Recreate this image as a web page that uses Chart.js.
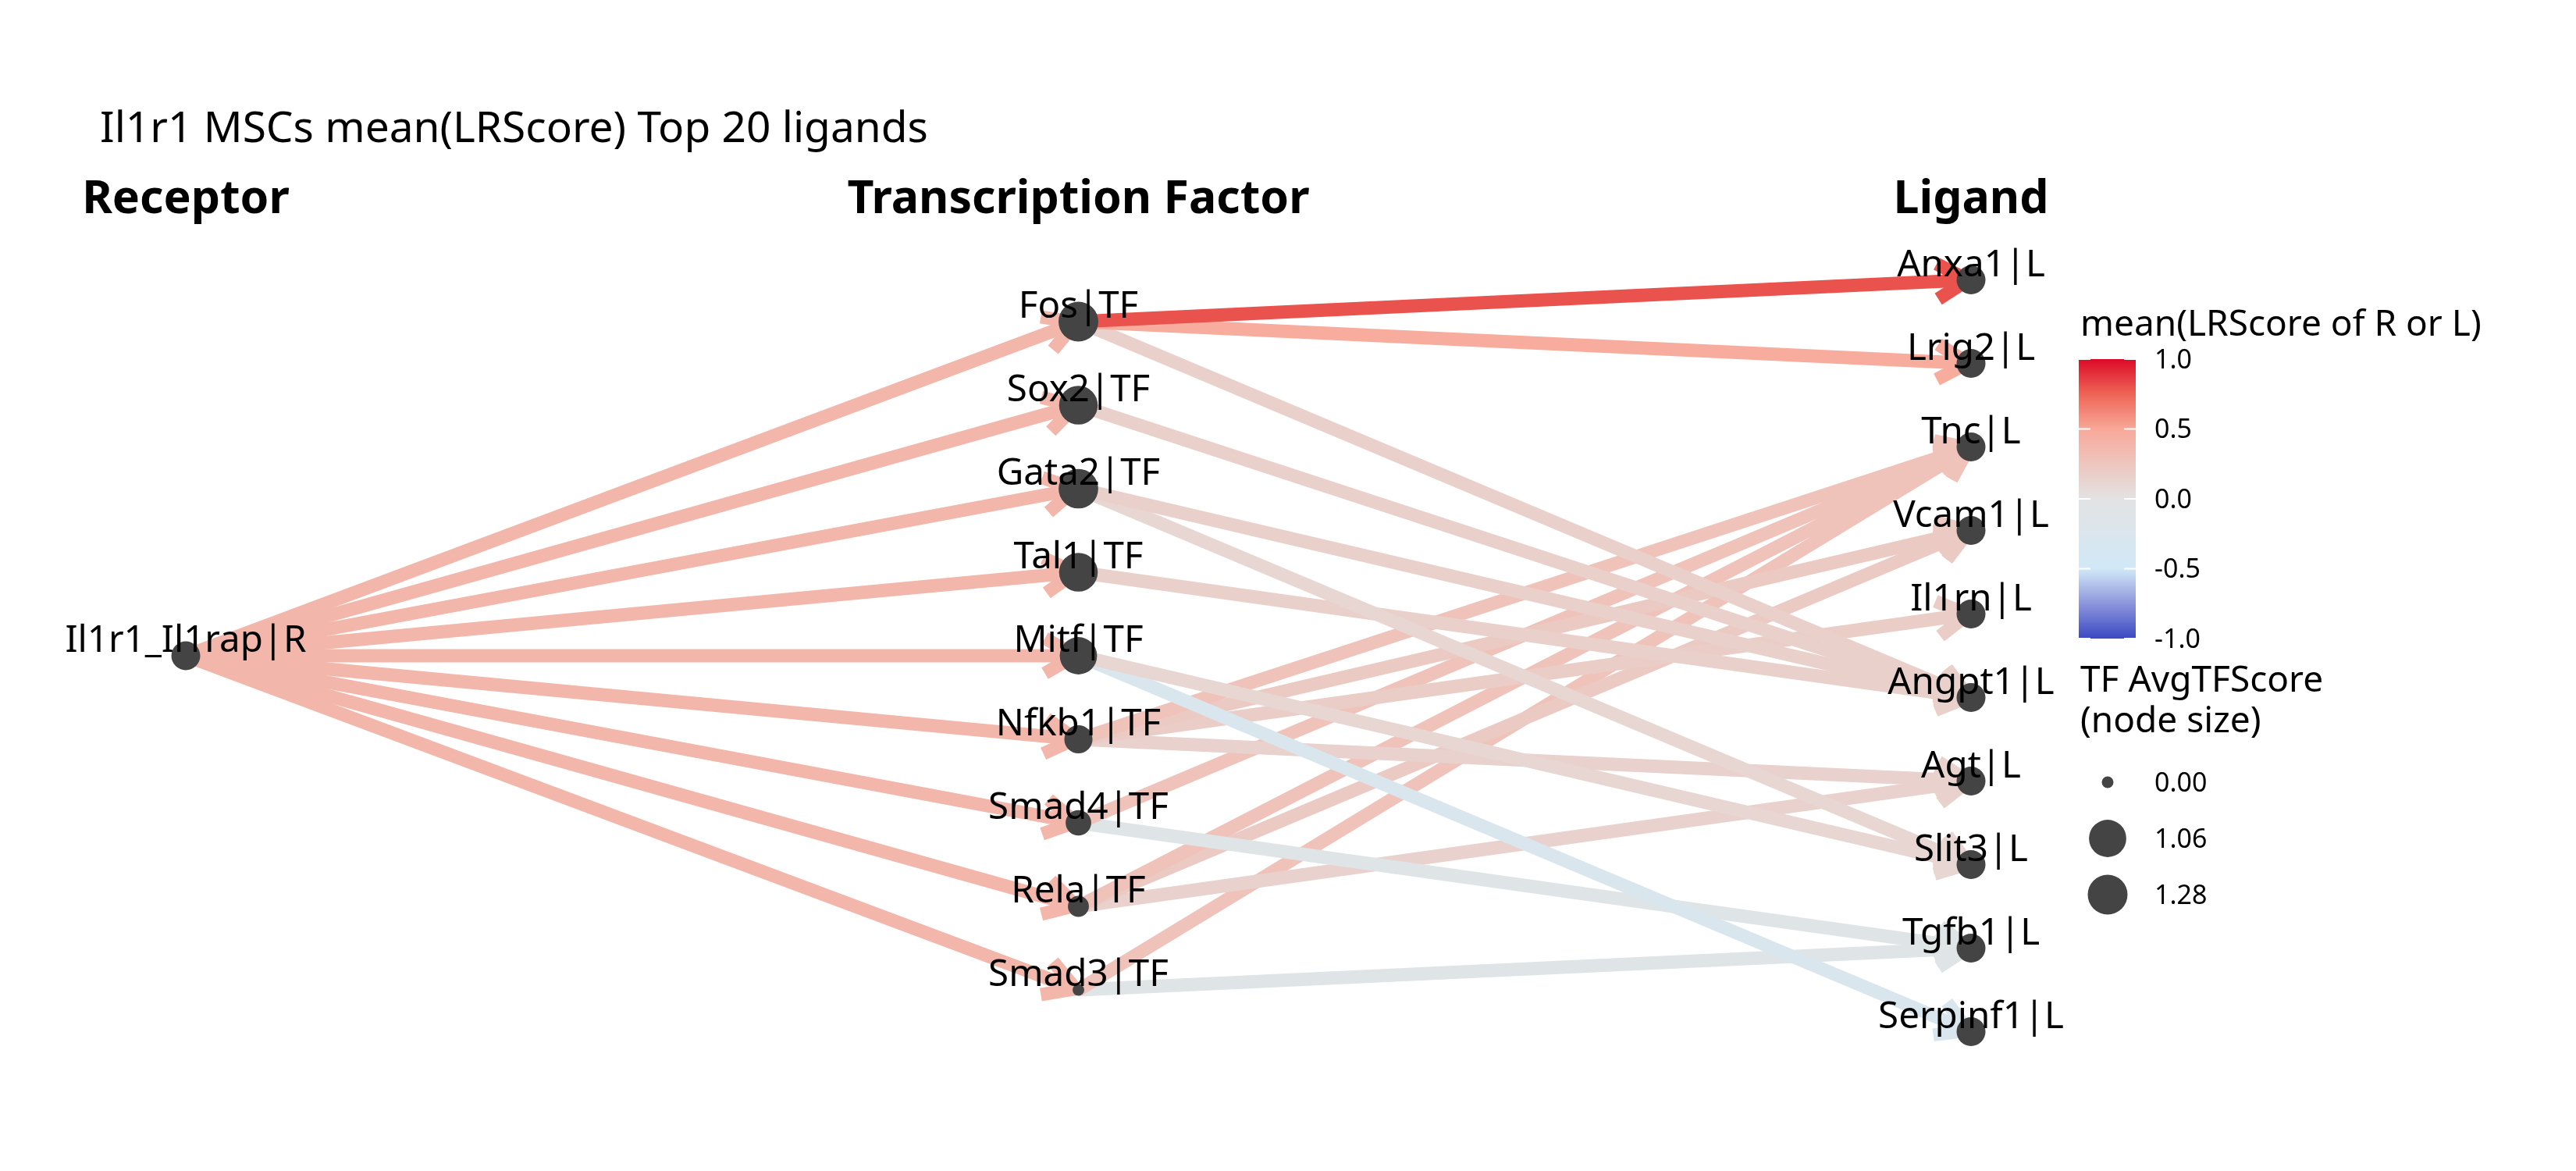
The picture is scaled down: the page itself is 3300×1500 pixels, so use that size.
<!DOCTYPE html>
<html>
<head>
<meta charset="utf-8">
<script src="https://cdn.jsdelivr.net/npm/chart.js@4.4.1/dist/chart.umd.min.js"></script>
<style>html,body{margin:0;padding:0;background:#ffffff;overflow:hidden}canvas{display:block}</style>
</head>
<body>
<canvas id="c" width="3300" height="1500"></canvas>
<script>
// ---------------- data ----------------
const chartTitle = 'Il1r1 MSCs mean(LRScore) Top 20 ligands';
const columnHeaders = ['Receptor', 'Transcription Factor', 'Ligand'];
const receptorName = 'Il1r1_Il1rap|R';
const receptorScore = 0.38;
const tfNames = ['Fos|TF', 'Sox2|TF', 'Gata2|TF', 'Tal1|TF', 'Mitf|TF', 'Nfkb1|TF', 'Smad4|TF', 'Rela|TF', 'Smad3|TF'];
const tfScores = [1.28, 1.18, 1.26, 1.18, 1.06, 0.44, 0.31, 0.14, 0.00];
const ligandNames = ['Anxa1|L', 'Lrig2|L', 'Tnc|L', 'Vcam1|L', 'Il1rn|L', 'Angpt1|L', 'Agt|L', 'Slit3|L', 'Tgfb1|L', 'Serpinf1|L'];
const ligandScores = [0.80, 0.47, 0.28, 0.21, 0.19, 0.16, 0.15, 0.11, -0.11, -0.25];
const edgeTF = ['Fos|TF', 'Fos|TF', 'Fos|TF', 'Sox2|TF', 'Gata2|TF', 'Gata2|TF', 'Tal1|TF', 'Mitf|TF', 'Mitf|TF',
  'Nfkb1|TF', 'Nfkb1|TF', 'Nfkb1|TF', 'Nfkb1|TF', 'Smad4|TF', 'Smad4|TF', 'Rela|TF', 'Rela|TF', 'Rela|TF', 'Smad3|TF', 'Smad3|TF'];
const edgeLigand = ['Anxa1|L', 'Lrig2|L', 'Angpt1|L', 'Angpt1|L', 'Angpt1|L', 'Slit3|L', 'Angpt1|L', 'Slit3|L', 'Serpinf1|L',
  'Tnc|L', 'Vcam1|L', 'Il1rn|L', 'Agt|L', 'Tnc|L', 'Tgfb1|L', 'Tnc|L', 'Vcam1|L', 'Agt|L', 'Tnc|L', 'Tgfb1|L'];
const colorTicks = [1.0, 0.5, 0.0, -0.5, -1.0];
const sizeTicks = [0.00, 1.06, 1.28];
const colorLegendTitle = 'mean(LRScore of R or L)';
const sizeLegendTitle = ['TF AvgTFScore', '(node size)'];

// ---------------- style ----------------
const FONT = '"Noto Sans", "Open Sans", sans-serif';
const colorStops = [[-1, [59, 72, 194]], [-0.75, [140, 150, 220]], [-0.5, [209, 232, 247]], [0, [227, 227, 227]],
  [0.5, [248, 168, 153]], [0.75, [238, 100, 86]], [1, [220, 10, 40]]];
function scoreColor(v) {
  v = Math.max(-1, Math.min(1, v));
  for (let i = 0; i < colorStops.length - 1; i++) {
    const [a, ca] = colorStops[i], [b, cb] = colorStops[i + 1];
    if (v >= a && v <= b) {
      const t = (v - a) / (b - a);
      const c = ca.map((x, k) => Math.round(x + (cb[k] - x) * t));
      return `rgb(${c[0]},${c[1]},${c[2]})`;
    }
  }
  return 'rgb(227,227,227)';
}
const maxTF = Math.max(...tfScores);
function tfRadius(v) { return 7.5 + 18 * Math.sqrt(v / maxTF); }
const FIXED_RADIUS = 18.5;
const EDGE_WIDTH = 17;
const ARROW_LEN = 45;
const NODE_COLOR = '#444444';
const TITLE_SIZE = 55, TITLE_PAD = 133;

// layout of the plot area (pixels) used to set scale bounds
const AREA = { left: 128, top: TITLE_PAD + TITLE_SIZE * 1.2, right: 3300, bottom: 1500 };
const X0 = 238, XU = 1143.5, Y0 = 840, YU = 107;
const XMIN = -(X0 - AREA.left) / XU, XMAX = XMIN + (AREA.right - AREA.left) / XU;
const YMIN = -(Y0 - AREA.top) / YU, YMAX = YMIN + (AREA.bottom - AREA.top) / YU;

// node positions in data units: column index and rank offset
const tfY = name => tfNames.indexOf(name) - (tfNames.length - 1) / 2;
const ligY = name => ligandNames.indexOf(name) - (ligandNames.length - 1) / 2;

// ---------------- datasets ----------------
const datasets = [];
edgeTF.forEach((tf, i) => {
  const lig = edgeLigand[i];
  datasets.push({
    type: 'line', isEdge: true, showLine: true,
    data: [{ x: 1, y: tfY(tf) }, { x: 2, y: ligY(lig) }],
    borderColor: scoreColor(ligandScores[ligandNames.indexOf(lig)]),
    borderWidth: EDGE_WIDTH, borderCapStyle: 'butt', pointRadius: 0, fill: false, tension: 0, order: 2, clip: false
  });
});
tfNames.forEach(tf => {
  datasets.push({
    type: 'line', isEdge: true, showLine: true,
    data: [{ x: 0, y: 0 }, { x: 1, y: tfY(tf) }],
    borderColor: scoreColor(receptorScore),
    borderWidth: EDGE_WIDTH, borderCapStyle: 'butt', pointRadius: 0, fill: false, tension: 0, order: 1, clip: false
  });
});
const nodePoints = [{ x: 0, y: 0, label: receptorName }];
const nodeRadii = [FIXED_RADIUS];
tfNames.forEach((n, i) => { nodePoints.push({ x: 1, y: tfY(n), label: n }); nodeRadii.push(tfRadius(tfScores[i])); });
ligandNames.forEach(n => { nodePoints.push({ x: 2, y: ligY(n), label: n }); nodeRadii.push(FIXED_RADIUS); });
datasets.push({
  type: 'scatter', isNode: true, data: nodePoints,
  pointRadius: nodeRadii, pointHoverRadius: nodeRadii, backgroundColor: NODE_COLOR, borderWidth: 0, order: 0, clip: false
});

// ---------------- plugins ----------------
const arrowPlugin = {
  id: 'arrows',
  afterDatasetDraw(chart, args) {
    const ds = chart.data.datasets[args.index];
    if (!ds.isEdge) return;
    const p0 = args.meta.data[0], p1 = args.meta.data[1];
    const dx = p1.x - p0.x, dy = p1.y - p0.y, L = Math.hypot(dx, dy);
    const ux = dx / L, uy = dy / L;
    const tx = p1.x - ux * 4, ty = p1.y - uy * 4;
    const ang = Math.PI / 6;
    const bx = -ux, by = -uy;
    const w1 = [tx + ARROW_LEN * (bx * Math.cos(ang) - by * Math.sin(ang)), ty + ARROW_LEN * (bx * Math.sin(ang) + by * Math.cos(ang))];
    const w2 = [tx + ARROW_LEN * (bx * Math.cos(-ang) - by * Math.sin(-ang)), ty + ARROW_LEN * (bx * Math.sin(-ang) + by * Math.cos(-ang))];
    const ctx = chart.ctx;
    ctx.save();
    ctx.strokeStyle = ds.borderColor;
    ctx.lineWidth = EDGE_WIDTH;
    ctx.lineCap = 'butt';
    ctx.lineJoin = 'round';
    ctx.beginPath();
    ctx.moveTo(w1[0], w1[1]); ctx.lineTo(tx, ty); ctx.lineTo(w2[0], w2[1]);
    ctx.stroke();
    ctx.restore();
  }
};

const textPlugin = {
  id: 'texts',
  afterDatasetsDraw(chart) {
    const ctx = chart.ctx, xs = chart.scales.x, ys = chart.scales.y;
    ctx.save();
    ctx.fillStyle = '#000000';
    ctx.font = `bold 59px ${FONT}`;
    ctx.textAlign = 'center'; ctx.textBaseline = 'alphabetic';
    columnHeaders.forEach((h, i) => ctx.fillText(h, xs.getPixelForValue(i), 273));
    ctx.font = `47.5px ${FONT}`;
    nodePoints.forEach(p => ctx.fillText(p.label, xs.getPixelForValue(p.x), ys.getPixelForValue(p.y) - 5));
    // colour legend
    ctx.textAlign = 'left';
    ctx.font = `46px ${FONT}`;
    ctx.fillText(colorLegendTitle, 2665, 430);
    const bar = { x: 2663, y: 460, w: 73, h: 358 };
    const g = ctx.createLinearGradient(0, bar.y, 0, bar.y + bar.h);
    for (let i = 0; i <= 80; i++) { const v = 1 - i / 40; g.addColorStop(i / 80, scoreColor(v)); }
    ctx.fillStyle = g;
    ctx.fillRect(bar.x, bar.y, bar.w, bar.h);
    ctx.strokeStyle = '#ffffff'; ctx.lineWidth = 2;
    ctx.font = `34px ${FONT}`; ctx.textBaseline = 'middle';
    colorTicks.forEach(t => {
      const y = bar.y + (1 - t) / 2 * bar.h;
      ctx.beginPath();
      ctx.moveTo(bar.x, y); ctx.lineTo(bar.x + 15, y);
      ctx.moveTo(bar.x + bar.w - 15, y); ctx.lineTo(bar.x + bar.w, y);
      ctx.stroke();
      ctx.fillStyle = '#000000';
      ctx.fillText(t.toFixed(1), 2760, y + 2);
    });
    // size legend
    ctx.textBaseline = 'alphabetic';
    ctx.font = `46px ${FONT}`;
    ctx.fillText(sizeLegendTitle[0], 2665, 886);
    ctx.fillText(sizeLegendTitle[1], 2665, 938);
    ctx.font = `34px ${FONT}`; ctx.textBaseline = 'middle';
    sizeTicks.forEach((t, i) => {
      const y = 1002 + i * 72;
      ctx.fillStyle = NODE_COLOR;
      ctx.beginPath(); ctx.arc(2700, y, tfRadius(t), 0, Math.PI * 2); ctx.fill();
      ctx.fillStyle = '#000000';
      ctx.fillText(t.toFixed(2), 2760, y + 2);
    });
    ctx.restore();
  }
};

new Chart(document.getElementById('c'), {
  type: 'scatter',
  data: { datasets },
  options: {
    responsive: false, animation: false, devicePixelRatio: 1,
    layout: { autoPadding: false, padding: { left: AREA.left, top: 0, right: 0, bottom: 0 } },
    scales: {
      x: { type: 'linear', display: false, min: XMIN, max: XMAX },
      y: { type: 'linear', display: false, reverse: true, min: YMIN, max: YMAX }
    },
    plugins: {
      legend: { display: false },
      tooltip: { enabled: false },
      title: {
        display: true, text: chartTitle, align: 'start', color: '#000000',
        font: { family: FONT, size: TITLE_SIZE, weight: 'normal', lineHeight: 1.2 },
        padding: { top: TITLE_PAD, bottom: 0 }
      }
    }
  },
  plugins: [arrowPlugin, textPlugin]
});
</script>
</body>
</html>
